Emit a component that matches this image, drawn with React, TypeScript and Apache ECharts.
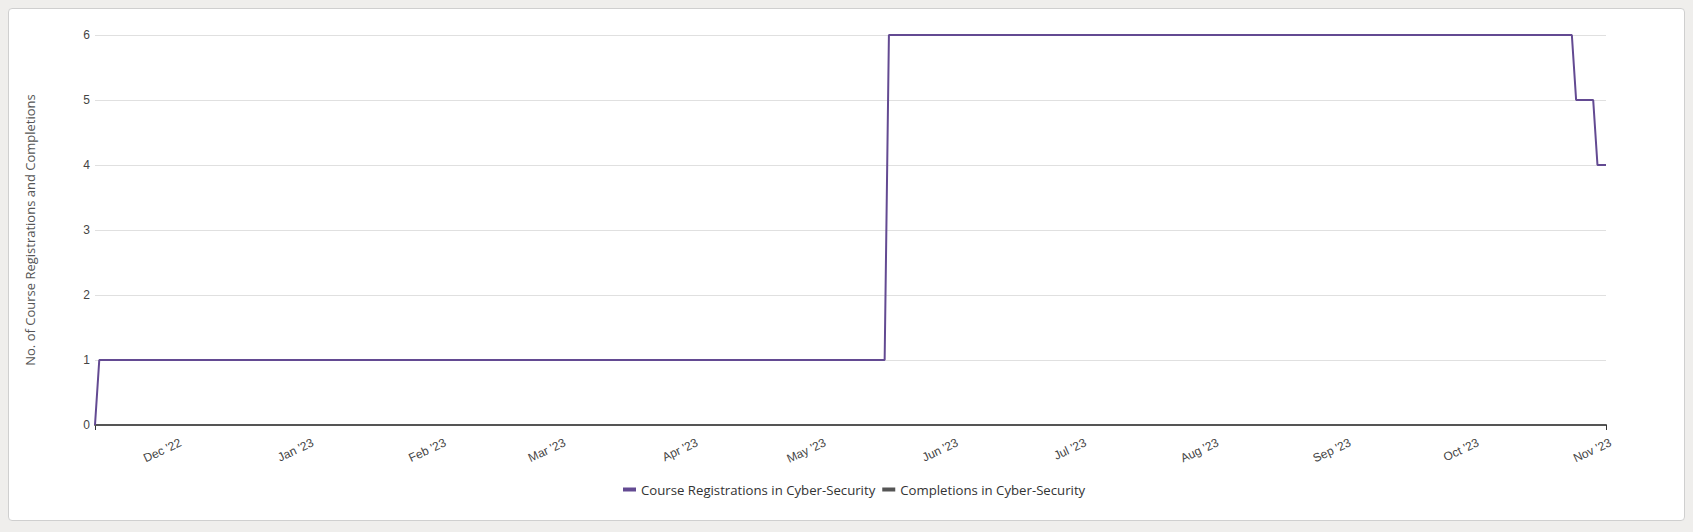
import React, { useEffect, useRef } from "react";
import * as echarts from "echarts";

const seriesNames = ["Course Registrations in Cyber-Security", "Completions in Cyber-Security"];
const registrationDates = [
  "2022-11-12", "2022-11-13", "2023-05-16", "2023-05-17",
  "2023-10-24", "2023-10-25", "2023-10-29", "2023-10-30", "2023-11-01",
];
const registrationValues = [0, 1, 1, 6, 6, 5, 5, 4, 4];
const completionDates = ["2022-11-12", "2023-11-01"];
const completionValues = [0, 0];
const monthTicks = [
  "2022-12-01", "2023-01-01", "2023-02-01", "2023-03-01", "2023-04-01", "2023-05-01",
  "2023-06-01", "2023-07-01", "2023-08-01", "2023-09-01", "2023-10-01", "2023-11-01",
];
const monthNames = ["Jan", "Feb", "Mar", "Apr", "May", "Jun", "Jul", "Aug", "Sep", "Oct", "Nov", "Dec"];
const yAxisTitle = "No. of Course Registrations and Completions";

const ts = (d: string) => Date.parse(d + "T00:00:00Z");

export default function App() {
  const ref = useRef<HTMLDivElement>(null);
  useEffect(() => {
    document.body.style.background = "#efeeec";
    const chart = echarts.init(ref.current!, null, { renderer: "svg" });
    const xMin = ts(registrationDates[0]);
    const xMax = ts(registrationDates[registrationDates.length - 1]);
    chart.setOption({
      animation: false,
      grid: { left: 86, right: 78, top: 26, height: 390, containLabel: false },
      legend: {
        data: seriesNames,
        left: 609,
        top: 469,
        icon: "rect",
        itemWidth: 13,
        itemHeight: 4,
        itemGap: 7,
        textStyle: { fontFamily: "Open Sans", fontSize: 13.2, color: "#333" },
      },
      xAxis: {
        type: "value",
        min: xMin,
        max: xMax,
        axisLine: { show: true, lineStyle: { color: "#555", width: 2 } },
        axisTick: {
          show: true,
          customValues: [xMin, xMax],
          length: 5,
          lineStyle: { color: "#333", width: 1 },
        },
        splitLine: { show: false },
        axisLabel: {
          customValues: monthTicks.map(ts),
          rotate: 25,
          margin: 19,
          padding: [0, -5, 0, 0],
          fontFamily: "Arial, Liberation Sans",
          fontSize: 12,
          color: "#444",
          formatter: (v: number) => {
            const d = new Date(v);
            return monthNames[d.getUTCMonth()] + " '" + String(d.getUTCFullYear()).slice(2);
          },
        },
      },
      yAxis: {
        type: "value",
        min: 0,
        max: 6,
        interval: 1,
        name: yAxisTitle,
        nameLocation: "middle",
        nameRotate: 90,
        nameGap: 59,
        nameTextStyle: { fontFamily: "Open Sans", fontSize: 13, color: "#555" },
        axisLine: { show: false },
        axisTick: { show: false },
        axisLabel: { margin: 5, fontFamily: "Arial, Liberation Sans", fontSize: 12, color: "#444" },
        splitLine: { lineStyle: { color: "#e0e0e0", width: 1 } },
      },
      series: [
        {
          name: seriesNames[0],
          type: "line",
          showSymbol: false,
          symbol: "none",
          lineStyle: { color: "#634a92", width: 2 },
          itemStyle: { color: "#634a92" },
          data: registrationDates.map((d, i) => [ts(d), registrationValues[i]]),
          z: 3,
        },
        {
          name: seriesNames[1],
          type: "line",
          showSymbol: false,
          symbol: "none",
          lineStyle: { color: "#555555", width: 2 },
          itemStyle: { color: "#555555" },
          data: completionDates.map((d, i) => [ts(d), completionValues[i]]),
          z: 2,
        },
      ],
    });
    return () => chart.dispose();
  }, []);
  return (
    <div
      style={{
        width: 1675,
        height: 511,
        border: "1px solid #cfcfcf",
        borderRadius: 4,
        background: "#fff",
      }}
    >
      <div ref={ref} style={{ width: 1675, height: 511 }} />
    </div>
  );
}
